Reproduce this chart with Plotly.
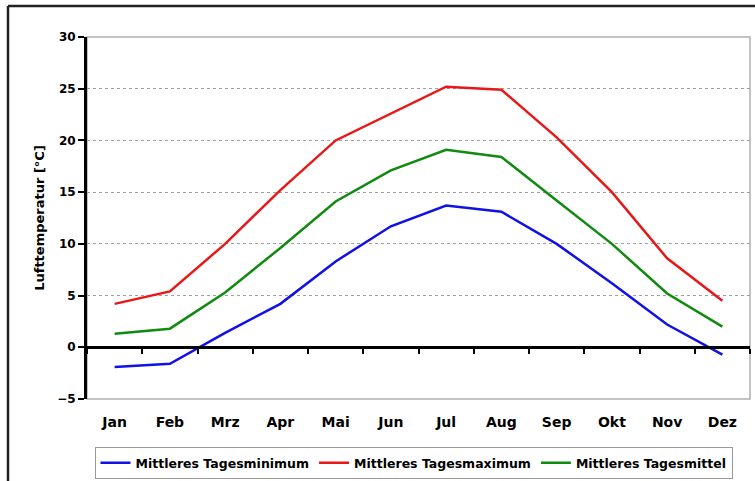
import plotly.graph_objects as go

months = ["Jan", "Feb", "Mrz", "Apr", "Mai", "Jun", "Jul", "Aug", "Sep", "Okt", "Nov", "Dez"]
t_min = [-1.9, -1.6, 1.4, 4.2, 8.3, 11.7, 13.7, 13.1, 10.0, 6.2, 2.2, -0.7]
t_max = [4.2, 5.4, 10.0, 15.2, 20.0, 22.6, 25.2, 24.9, 20.3, 15.0, 8.6, 4.5]
t_mean = [1.3, 1.8, 5.3, 9.6, 14.1, 17.1, 19.1, 18.4, 14.2, 10.0, 5.2, 2.0]

series_names = ["Mittleres Tagesminimum", "Mittleres Tagesmaximum", "Mittleres Tagesmittel"]
series_colors = ["#1010e8", "#e81818", "#108a10"]
y_title = "Lufttemperatur [°C]"
y_ticks = [-5, 0, 5, 10, 15, 20, 25, 30]

FONT = "DejaVu Sans, Verdana, sans-serif"

fig = go.Figure()
for name, vals, col in zip(series_names, [t_min, t_max, t_mean], series_colors):
    fig.add_trace(go.Scatter(x=months, y=vals, mode="lines", name=name,
                             line=dict(color=col, width=2.5)))

# invisible trace to anchor the zero-line category axis
fig.add_trace(go.Scatter(x=months, y=[0] * len(months), xaxis="x2", mode="lines",
                         line=dict(width=0), showlegend=False, hoverinfo="skip"))

W, H = 755, 481
L, R, T, B = 87, 5, 37, 82
pw, ph = W - L - R, H - T - B

def px_x(p):
    return (p - L) / pw

def px_y(p):
    return (H - B - p) / ph

fig.update_layout(
    width=W, height=H,
    margin=dict(l=L, r=R, t=T, b=B, autoexpand=False),
    paper_bgcolor="white", plot_bgcolor="white",
    font=dict(family=FONT, size=12, color="black", weight=700),
    showlegend=True,
    legend=dict(orientation="h", x=px_x(413.5), xanchor="center",
                yref="container", y=1 - 447 / H, yanchor="top",
                bordercolor="#9a9a9a", borderwidth=1, bgcolor="white",
                font=dict(family=FONT, size=12.5, color="black", weight=700),
                itemwidth=30, tracegroupgap=0),
    xaxis=dict(type="category", categoryorder="array", categoryarray=months,
               range=[-0.5, 11.5], showgrid=False, showline=False, ticks="",
               ticklabelstandoff=13, zeroline=False, automargin=False,
               tickfont=dict(family=FONT, size=14, color="black", weight=700)),
    xaxis2=dict(type="category", categoryorder="array", categoryarray=months,
                range=[-0.5, 11.5], overlaying="x", anchor="free", position=5 / 35,
                side="bottom", showline=True, linecolor="black", linewidth=3,
                ticks="outside", tickson="boundaries", ticklen=5, tickwidth=2,
                tickcolor="black", showticklabels=False, showgrid=False, zeroline=False,
                automargin=False),
    yaxis=dict(range=[-5, 30], tickvals=y_ticks, showline=True, linecolor="black",
               linewidth=3, ticks="outside", ticklen=6, tickwidth=2, tickcolor="black",
               showgrid=True, gridcolor="#a0a0a0", griddash="dot", gridwidth=1,
               zeroline=False, automargin=False,
               tickfont=dict(family=FONT, size=12, color="black", weight=700),
               title=dict(text=y_title, standoff=10,
                          font=dict(family=FONT, size=13, color="black", weight=700))),
    shapes=[
        # plot area frame (light gray)
        dict(type="rect", xref="paper", yref="paper", x0=0, x1=1, y0=0, y1=1,
             line=dict(color="#b0b0b0", width=1.5), layer="below"),
        # outer chart frame (cut off at right and bottom)
        dict(type="line", xref="paper", yref="paper", x0=px_x(8), x1=px_x(760),
             y0=px_y(6), y1=px_y(6), line=dict(color="#222222", width=2.5)),
        dict(type="line", xref="paper", yref="paper", x0=px_x(8), x1=px_x(8),
             y0=px_y(6), y1=px_y(490), line=dict(color="#222222", width=2.5)),
    ],
)

fig.write_html("out.html", config={"displayModeBar": False},
               post_script="document.body.style.margin='0';")
